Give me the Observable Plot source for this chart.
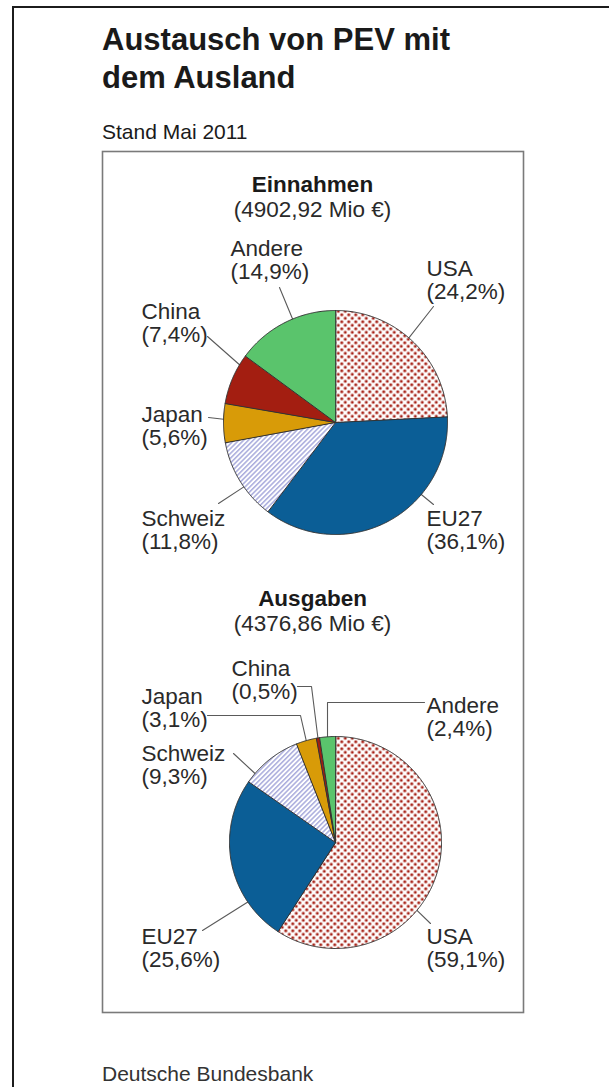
<!DOCTYPE html>
<html>
<head>
<meta charset="utf-8">
<script src="https://cdn.jsdelivr.net/npm/d3@7"></script>
<script src="https://cdn.jsdelivr.net/npm/@observablehq/plot@0.6"></script>
<style>
  html, body { margin: 0; padding: 0; background: #fff; }
  #page { position: relative; width: 609px; height: 1087px; overflow: hidden;
          font-family: "Liberation Sans", Arial, Helvetica, sans-serif; color: #222; }
  #pageframe { position: absolute; left: 12px; top: 6px; width: 800px; height: 1300px;
               border-left: 2px solid #1c1c1c; border-top: 2px solid #1c1c1c; }
  #title { position: absolute; left: 102px; top: 21px; margin: 0; font-weight: bold;
           font-size: 31px; line-height: 38px; color: #1a1a1a; }
  #subtitle { position: absolute; left: 102px; top: 120px; font-size: 21px; line-height: 24px; color: #1a1a1a; }
  #chart { position: absolute; left: 0; top: 148px; }
  #footer { position: absolute; left: 102px; top: 1062px; font-size: 21px; line-height: 24px; color: #333; }
</style>
</head>
<body>
<div id="page">
  <div id="pageframe"></div>
  <h1 id="title">Austausch von PEV mit<br>dem Ausland</h1>
  <div id="subtitle">Stand Mai 2011</div>
  <div id="chart"></div>
  <div id="footer">Deutsche Bundesbank</div>
</div>
<script>
// ---------- data ----------
const categories = ["USA", "EU27", "Schweiz", "Japan", "China", "Andere"];
const einnahmenShares = [24.2, 36.1, 11.8, 5.6, 7.4, 14.9];
const ausgabenShares  = [59.1, 25.6, 9.3, 3.1, 0.5, 2.4];
const pieTitles = ["Einnahmen", "Ausgaben"];
const pieTotals = ["4902,92", "4376,86"];

// ---------- styles ----------
const sliceFills = ["url(#pev-dots)", "#0b5e96", "url(#pev-hatch)", "#d89b08", "#a31e11", "#5ac46c"];

// ---------- layout (page pixel units) ----------
const pieLayout = [
  {cx: 335, cy: 422, r: 112, headX: 312, headY: 191},
  {cx: 335, cy: 842, r: 106, headX: 312, headY: 605}
];
// label position (first baseline), leader start, optional elbow, position along slice (0..1)
const labelLayout = [
  [ // Einnahmen
    {x: 426, y: 275, from: [433, 306], at: 0.47},
    {x: 426, y: 525, from: [433, 504], at: 0.33},
    {x: 141, y: 525, from: [218, 503], at: 0.42},
    {x: 141, y: 421, from: [208, 417], at: 0.6},
    {x: 141, y: 318, from: [207, 336], at: 0.8},
    {x: 230, y: 255, from: [279, 287], at: 0.58}
  ],
  [ // Ausgaben
    {x: 426, y: 943, from: [430, 923], at: 0.61},
    {x: 141, y: 943, from: [202, 930], at: 0.25},
    {x: 141, y: 760, from: [233, 753], at: 0.17},
    {x: 141, y: 703, from: [207, 715], elbow: [300, 715], at: 0.5},
    {x: 231, y: 675, from: [297, 686], elbow: [311, 686], at: 0.5},
    {x: 426, y: 712, from: [424, 702], elbow: [327, 702], at: 0.5}
  ]
];

const fmt = v => v.toFixed(1).replace(".", ",");
const shares = [einnahmenShares, ausgabenShares];

const sliceRows = [], leaderRows = [], labelRows = [], headRows = [];
shares.forEach((vals, pi) => {
  const p = pieLayout[pi];
  const arcs = d3.pie().sort(null).value(d => d)(vals);
  headRows.push({x: p.headX, y: p.headY, title: pieTitles[pi], total: `(${pieTotals[pi]} Mio €)`});
  arcs.forEach((a, i) => {
    const id = `s${pi}-${i}`;
    sliceRows.push({id, x: p.cx, y: p.cy, fill: sliceFills[i]});
    const n = Math.max(2, Math.ceil((a.endAngle - a.startAngle) / (Math.PI / 360)));
    for (let k = 0; k <= n; k++) {
      const t = a.startAngle + (a.endAngle - a.startAngle) * k / n;
      sliceRows.push({id, x: p.cx + p.r * Math.sin(t), y: p.cy - p.r * Math.cos(t), fill: sliceFills[i]});
    }
    const L = labelLayout[pi][i];
    labelRows.push({x: L.x, y: L.y, name: categories[i], pct: `(${fmt(vals[i])}%)`});
    const lid = `l${pi}-${i}`;
    const t = a.startAngle + (a.endAngle - a.startAngle) * L.at;
    leaderRows.push({id: lid, x: L.from[0], y: L.from[1]});
    if (L.elbow) leaderRows.push({id: lid, x: L.elbow[0], y: L.elbow[1]});
    leaderRows.push({id: lid, x: p.cx + p.r * Math.sin(t), y: p.cy - p.r * Math.cos(t)});
  });
});

const FS = 22.5;
const chart = Plot.plot({
  width: 609,
  height: 868,
  marginLeft: 102,
  marginRight: 86,
  marginTop: 3,
  marginBottom: 4,
  x: {domain: [102, 523], axis: null},
  y: {domain: [151, 1012], range: [3, 864], axis: null},
  color: {type: "identity"},
  style: {fontFamily: "'Liberation Sans', Arial, Helvetica, sans-serif", background: "transparent", overflow: "visible"},
  marks: [
    Plot.frame({stroke: "#7a7a7a", strokeWidth: 1.6}),
    Plot.line(leaderRows, {x: "x", y: "y", z: "id", stroke: "#5a5a5a", strokeWidth: 1.1, curve: "linear"}),
    Plot.line(sliceRows, {x: "x", y: "y", z: "id", fill: "fill", stroke: "#333", strokeWidth: 1, curve: "linear-closed", strokeLinejoin: "round"}),
    Plot.text(headRows, {x: "x", y: "y", text: "title", fontWeight: "bold", fontSize: FS, textAnchor: "middle", lineAnchor: "bottom", fill: "#1a1a1a"}),
    Plot.text(headRows, {x: "x", y: "y", dy: 25, text: "total", fontSize: FS, textAnchor: "middle", lineAnchor: "bottom", fill: "#2a2a2a"}),
    Plot.text(labelRows, {x: "x", y: "y", text: "name", fontSize: FS, textAnchor: "start", lineAnchor: "bottom", fill: "#2a2a2a"}),
    Plot.text(labelRows, {x: "x", y: "y", dy: 23.5, text: "pct", fontSize: FS, textAnchor: "start", lineAnchor: "bottom", fill: "#2a2a2a"})
  ]
});

// pattern fills
const defs = d3.select(chart).insert("defs", ":first-child");
const DP = 7;
const dots = defs.append("pattern").attr("id", "pev-dots").attr("patternUnits", "userSpaceOnUse")
  .attr("width", DP).attr("height", DP);
dots.append("rect").attr("width", DP).attr("height", DP).attr("fill", "#fff");
dots.append("circle").attr("cx", DP / 4).attr("cy", DP / 4).attr("r", 1.5).attr("fill", "#a51f14");
dots.append("circle").attr("cx", DP * 3 / 4).attr("cy", DP * 3 / 4).attr("r", 1.5).attr("fill", "#a51f14");
const hatch = defs.append("pattern").attr("id", "pev-hatch").attr("patternUnits", "userSpaceOnUse")
  .attr("width", 3.4).attr("height", 3.4).attr("patternTransform", "rotate(45)");
hatch.append("rect").attr("width", 3.4).attr("height", 3.4).attr("fill", "#fff");
hatch.append("line").attr("x1", 0.8).attr("y1", 0).attr("x2", 0.8).attr("y2", 3.4)
  .attr("stroke", "#8a8dd0").attr("stroke-width", 1.1);

document.getElementById("chart").appendChild(chart);
</script>
</body>
</html>
